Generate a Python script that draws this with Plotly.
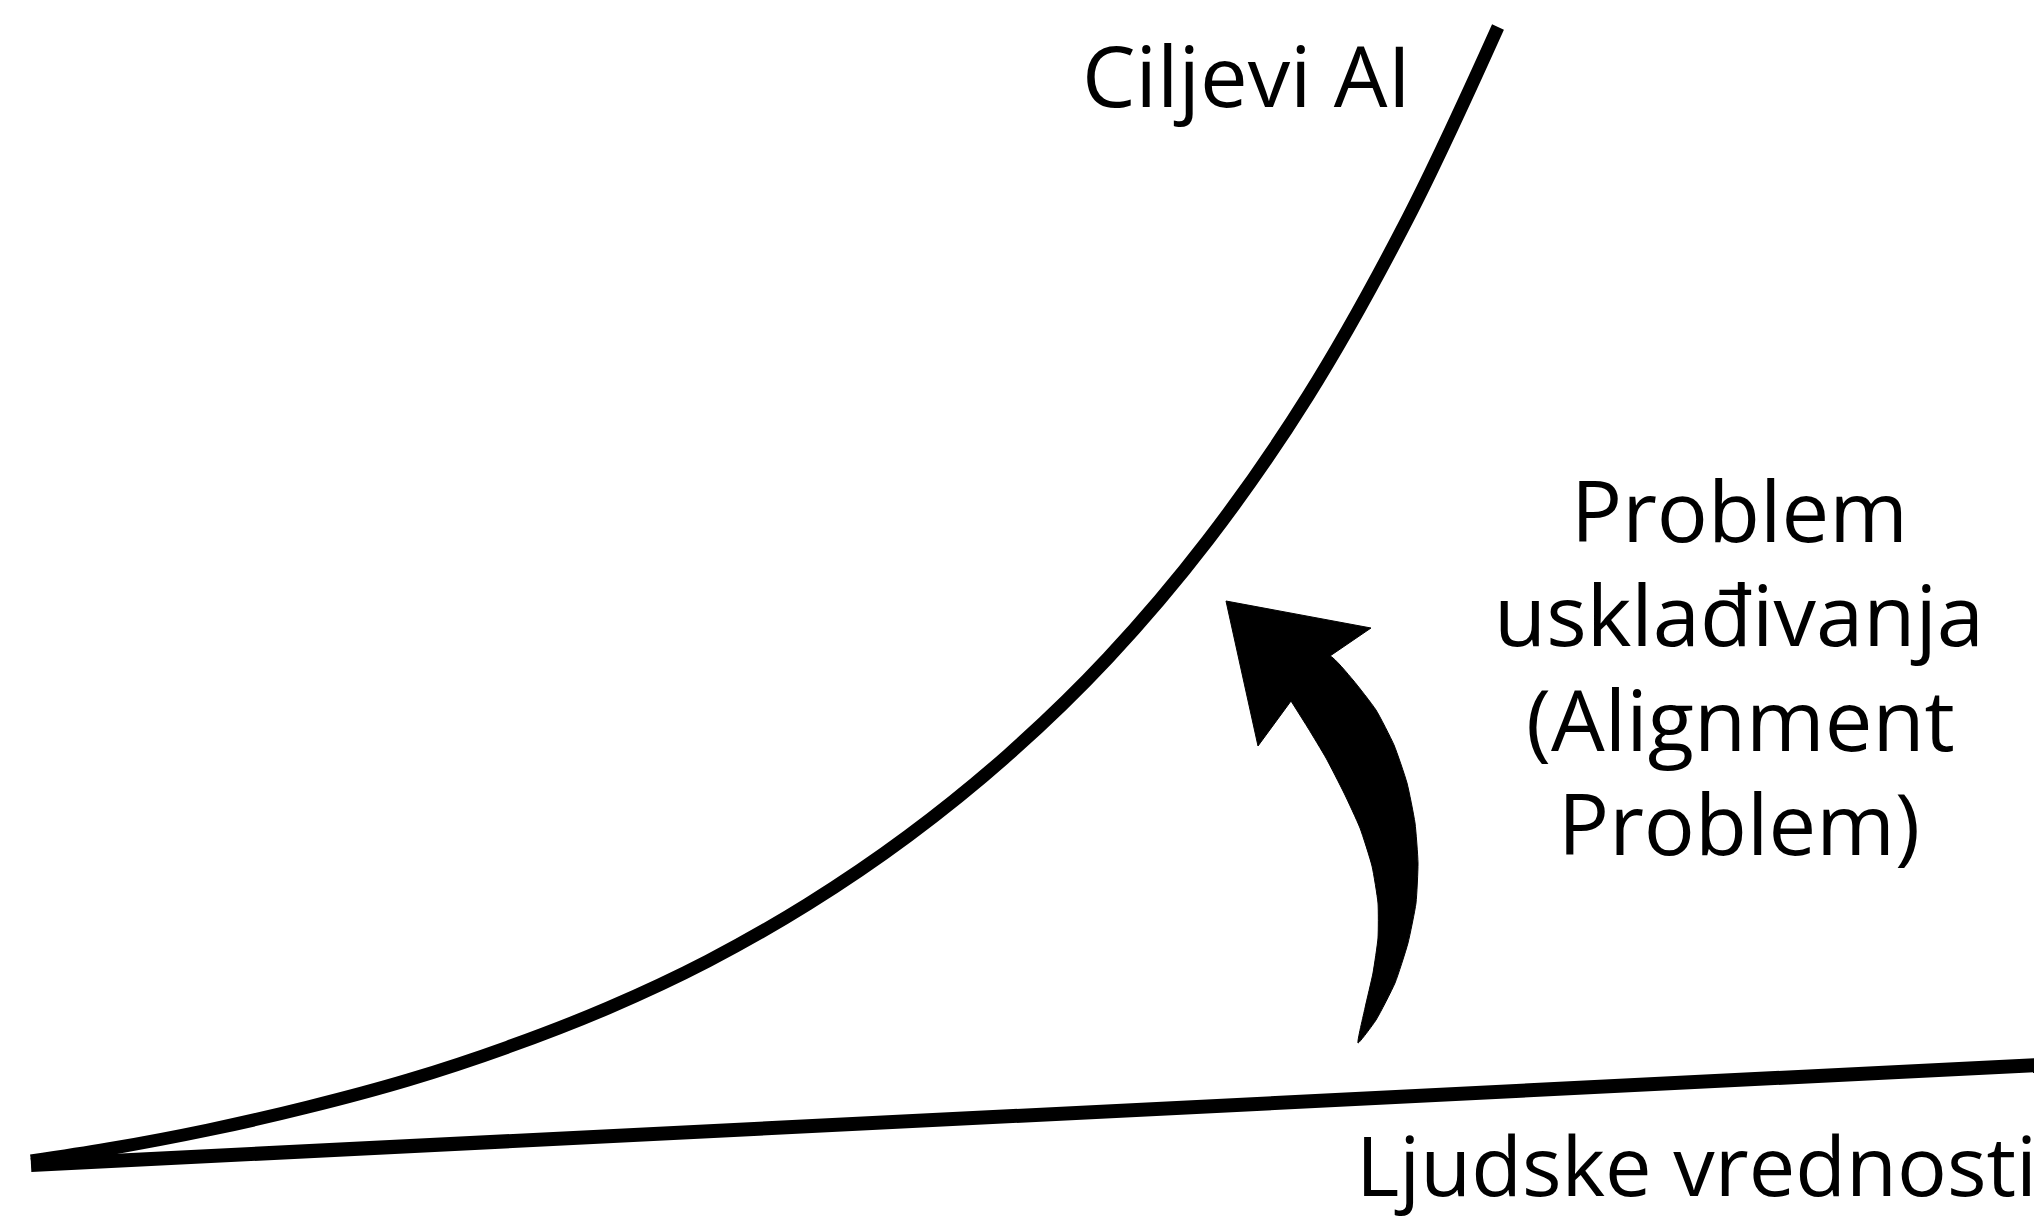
import plotly.graph_objects as go

# Canvas frame (pixel-like data units, y grows downward)
W, H = 2042, 1216

# "Ciljevi AI" curve (AI goals)
ai_x = [23, 100, 200, 300, 400, 500, 600, 700, 800, 900, 1000, 1100, 1200, 1300, 1400, 1490]
ai_y = [1153, 1141, 1122, 1099, 1072, 1039, 1000, 953, 896, 828, 747, 650, 532, 388, 210, 19]

# "Ljudske vrednosti" line (human values)
hv_x = [23, 2029]
hv_y = [1157, 1057]

# Arrow head outline: tip, right barb, right notch, left notch, left barb
head_x = [1218, 1363, 1322, 1283, 1250, 1218]
head_y = [593, 620, 648, 693, 738, 593]

# Arrow shaft outline: right edge down to tail, left edge back up
shaft_x = [1300, 1322, 1345, 1368, 1386, 1399, 1407, 1410, 1408, 1400, 1387, 1368, 1350,
           1357, 1365, 1370, 1370, 1364, 1352, 1336, 1318, 1300, 1283]
shaft_y = [655, 648, 672, 702, 737, 775, 815, 855, 895, 935, 975, 1012, 1035,
           1000, 965, 930, 895, 858, 820, 785, 750, 720, 693]

labels = ["Ciljevi AI", "Problem", "usklađivanja", "(Alignment", "Problem)", "Ljudske vrednosti"]
label_x = [1238, 1731, 1731, 1732, 1731, 2031]
label_y = [66, 501, 605, 710, 814, 1155]
label_anchor = ["center", "center", "center", "center", "center", "right"]
label_size = [85, 85, 85, 85, 85, 83]

fig = go.Figure()
fig.add_trace(go.Scatter(x=hv_x, y=hv_y, mode="lines",
                         line=dict(color="black", width=14), hoverinfo="skip"))
fig.add_trace(go.Scatter(x=ai_x, y=ai_y, mode="lines",
                         line=dict(color="black", width=13, shape="spline", smoothing=1.0),
                         hoverinfo="skip"))
fig.add_trace(go.Scatter(x=shaft_x, y=shaft_y, mode="lines", fill="toself",
                         fillcolor="black",
                         line=dict(color="black", width=1, shape="spline", smoothing=0.5),
                         hoverinfo="skip"))
fig.add_trace(go.Scatter(x=head_x, y=head_y, mode="lines", fill="toself",
                         fillcolor="black", line=dict(color="black", width=1),
                         hoverinfo="skip"))

for t, x, y, a, s in zip(labels, label_x, label_y, label_anchor, label_size):
    fig.add_annotation(x=x, y=y, text=t, showarrow=False, xanchor=a, yanchor="middle",
                       font=dict(family="Open Sans", size=s, color="black"))

fig.update_layout(
    width=W, height=H, margin=dict(l=0, r=0, t=0, b=0),
    paper_bgcolor="white", plot_bgcolor="white", showlegend=False,
    xaxis=dict(range=[0, W], visible=False, fixedrange=True),
    yaxis=dict(range=[H, 0], visible=False, fixedrange=True),
)

fig.write_html("out.html", config={"displayModeBar": False})
